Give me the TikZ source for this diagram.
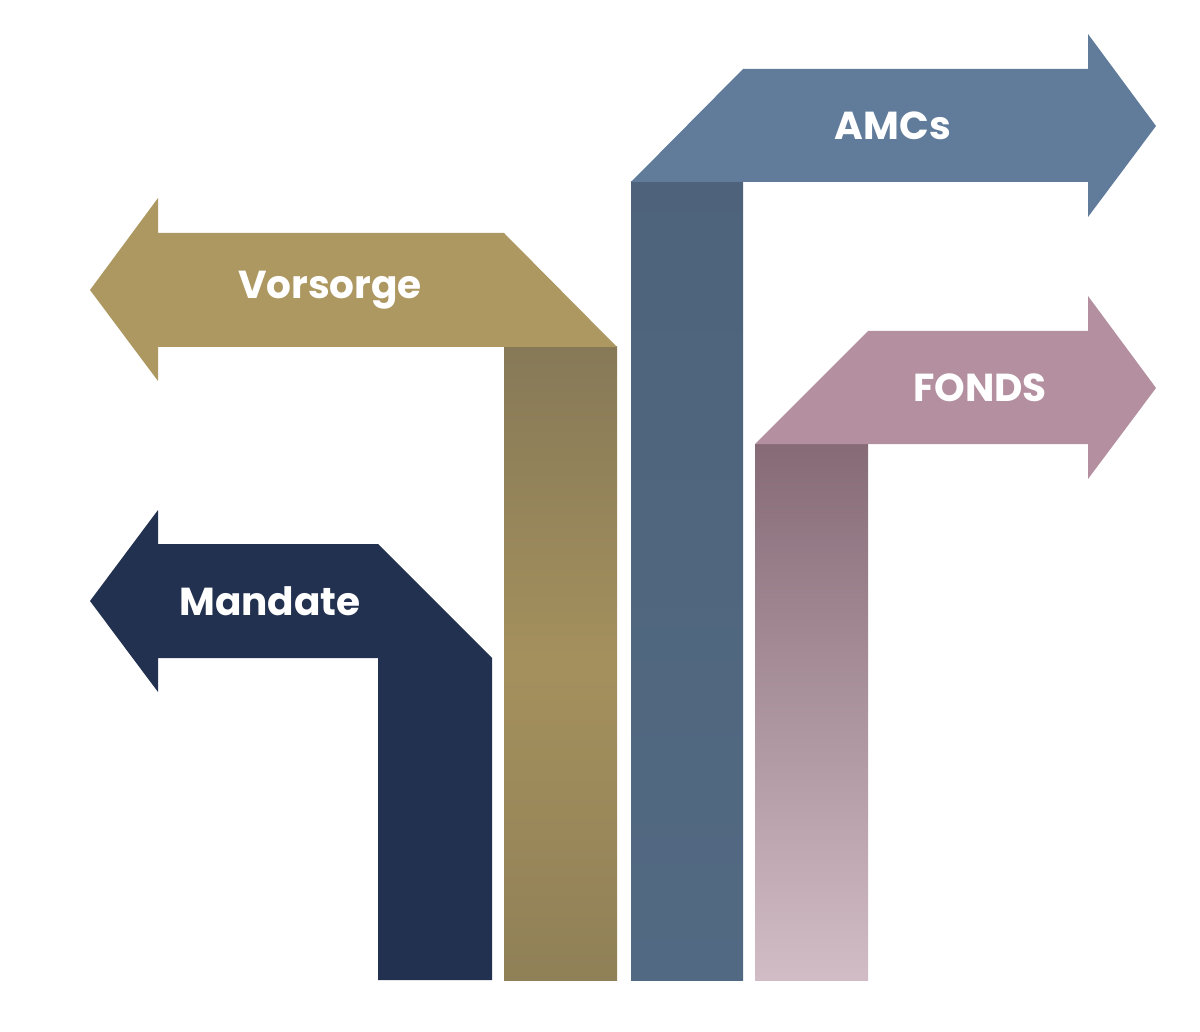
\documentclass[tikz,border=0pt]{standalone}
\usepackage{fontspec}
\setmainfont{Poppins}
\begin{document}
\begin{tikzpicture}[x=1pt,y=-1pt,
 lbl/.style={text=white,font=\fontsize{39}{44}\selectfont\bfseries}]
\useasboundingbox (0,0) rectangle (1200,1032);
\definecolor{mand}{HTML}{233150}
\definecolor{vors}{HTML}{AD9862}
\definecolor{amcs}{HTML}{617C9A}
\definecolor{fonds}{HTML}{B38F9F}
% Mandate
\fill[mand] (158,544)--(378,544)--(492,658)--(492,980)--(378,980)--(378,658)--(158,658)--(158,692)--(90,601)--(158,510)--cycle;
\node[lbl] (m) at (270,601) {Mandate};
% Vorsorge bar
\shade[top color=vors!70!black!90, bottom color=vors!80!black!95, middle color=vors!95!black] (504,347) rectangle (617,980);
\fill[vors] (158,233)--(504,233)--(617,347)--(504,347)--(158,347)--(158,381)--(90,290)--(158,198)--cycle;
\node[lbl] (v) at (330,290) {Vorsorge};
% AMCs
\shade[top color=amcs!80!black, middle color=amcs!95!black, bottom color=amcs!85!black] (631,182) rectangle (743,980);
\fill[amcs] (631,182)--(743,69)--(1088,69)--(1088,34)--(1156,126)--(1088,217)--(1088,182)--cycle;
\node[lbl] (a) at (893,126) {AMCs};
% FONDS
\shade[top color=fonds!75!black, bottom color=fonds!60!white] (755,444) rectangle (868,980);
\fill[fonds] (755,444)--(868,331)--(1088,331)--(1088,296)--(1156,388)--(1088,479)--(1088,444)--cycle;
\node[lbl] (f) at (980,388) {FONDS};
\end{tikzpicture}
\end{document}
